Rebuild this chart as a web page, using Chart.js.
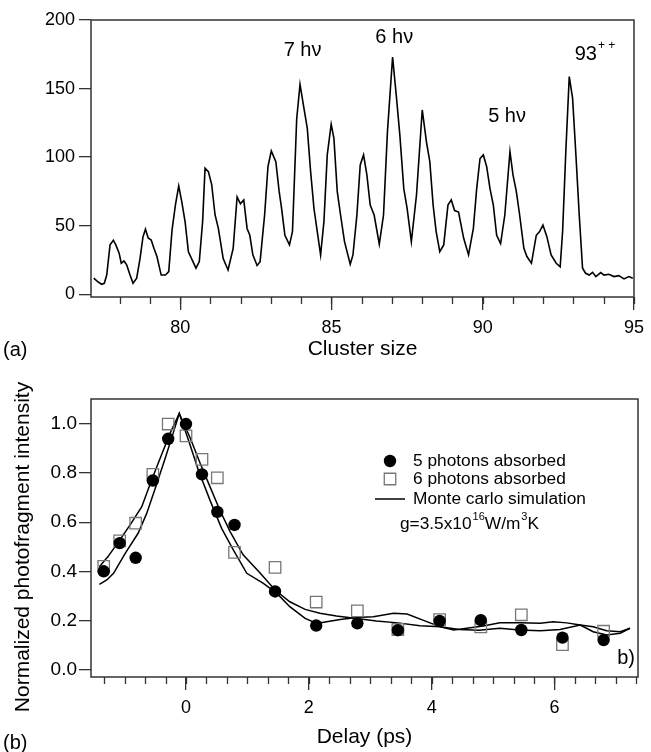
<!DOCTYPE html>
<html>
<head>
<meta charset="utf-8">
<script src="https://cdn.jsdelivr.net/npm/chart.js@4.4.1/dist/chart.umd.min.js"></script>
<style>
  body { margin: 0; background: #fff; }
  #wrap { position: relative; width: 651px; height: 752px; }
  canvas { position: absolute; left: 0; }
  #spectrum { top: 0; }
  #delay { top: 360px; }
</style>
</head>
<body>
<div id="wrap">
  <canvas id="spectrum" width="651" height="360"></canvas>
  <canvas id="delay" width="651" height="392"></canvas>
</div>
<script>
const FONT = "'Liberation Sans', Arial, sans-serif";
const INK = '#000';
const FRAME = '#333';

// ---- (a) mass spectrum ----
const clusterSize = [77.14, 77.27, 77.40, 77.49, 77.57, 77.68, 77.79, 77.87, 77.98, 78.05, 78.14, 78.23, 78.34, 78.44, 78.56,
  78.67, 78.77, 78.85, 78.94, 79.04, 79.13, 79.23, 79.37, 79.51, 79.62, 79.73, 79.84, 79.95, 80.05, 80.16, 80.27, 80.42,
  80.52, 80.63, 80.74, 80.82, 80.93, 81.04, 81.15, 81.26, 81.42, 81.58, 81.75, 81.88, 81.99, 82.10, 82.21, 82.30, 82.40,
  82.54, 82.64, 82.79, 82.90, 83.01, 83.16, 83.27, 83.35, 83.46, 83.61, 83.71, 83.85, 83.96, 84.09, 84.20, 84.31, 84.42,
  84.53, 84.64, 84.75, 84.86, 84.99, 85.08, 85.19, 85.30, 85.43, 85.62, 85.71, 85.84, 85.95, 86.06, 86.17, 86.28, 86.41,
  86.58, 86.72, 86.85, 87.02, 87.15, 87.26, 87.39, 87.50, 87.64, 87.81, 88.00, 88.14, 88.25, 88.36, 88.46, 88.58, 88.71,
  88.85, 88.96, 89.07, 89.20, 89.37, 89.53, 89.69, 89.80, 89.91, 90.02, 90.13, 90.24, 90.35, 90.46, 90.59, 90.73, 90.90,
  91.00, 91.11, 91.22, 91.36, 91.46, 91.61, 91.77, 91.88, 91.99, 92.12, 92.26, 92.43, 92.56, 92.64, 92.75, 92.86, 92.97,
  93.08, 93.19, 93.30, 93.40, 93.52, 93.63, 93.74, 93.90, 94.01, 94.17, 94.34, 94.50, 94.67, 94.83, 94.96];
const counts = [11.7, 9.2, 7.3, 8.0, 14, 36, 39.4, 36, 30, 22.6, 24.3, 21.4, 14, 8, 11.7,
  26, 42, 47.4, 41, 39.6, 33.5, 27.5, 14, 14, 16.5, 47, 65, 79, 67.6, 53, 31, 23.8,
  19, 23.8, 53, 92, 89.4, 80, 58, 48, 26, 17.7, 33.5, 71, 66, 68.8, 48, 43, 28.7,
  21, 23.8, 58, 93, 104.5, 96.7, 75, 62.7, 43, 36, 45.7, 128, 153, 135.6, 121, 89.4, 62.7,
  45.7, 28.7, 53, 101.6, 124, 113.7, 75, 57.8, 38.4, 21.9, 28.7, 57.8, 94.3, 101.6, 87, 65, 57.8,
  36.5, 57.8, 118.6, 173, 143, 116, 77, 62.7, 38.4, 72.4, 134.4, 111, 96.7, 65, 45.7, 31, 36,
  65, 68.8, 61, 60, 40.8, 28.7, 48, 77, 99, 101.6, 93, 77, 65, 43, 37, 57.8, 104,
  87, 75, 57.8, 33.5, 27.5, 22.6, 43, 45.7, 50.5, 42, 28.7, 22.6, 20, 45.7, 106, 158.7, 143,
  101.6, 57.8, 19, 15.3, 14, 16, 12.9, 15.8, 14, 14.6, 12.9, 13.6, 11.2, 12.9, 11.7];
const sizeTicks = [80, 85, 90, 95];
const countTicks = [0, 50, 100, 150, 200];
const peakLabels = [
  { parts: [{ t: '7 h\u03bd' }], x: 83.42, y: 177.6 },
  { parts: [{ t: '6 h\u03bd' }], x: 86.45, y: 187.3 },
  { parts: [{ t: '5 h\u03bd' }], x: 90.18, y: 129.5 },
  { parts: [{ t: '93' }, { t: '+ +', sup: true }], x: 93.04, y: 175.1 }
];

// ---- (b) delay scan ----
const delay = [-1.34, -1.08, -0.82, -0.54, -0.29, 0, 0.26, 0.51, 0.79, 1.45, 2.12, 2.79, 3.45, 4.13, 4.80, 5.46, 6.13, 6.80];
const fivePhoton = [0.40, 0.515, 0.455, 0.77, 0.94, 1.0, 0.795, 0.642, 0.589, 0.318, 0.179, 0.188, 0.16, 0.198, 0.201, 0.161, 0.13, 0.12];
const sixPhoton = [0.42, 0.524, 0.596, 0.795, 1.0, 0.952, 0.856, 0.781, 0.477, 0.416, 0.275, 0.239, 0.163, 0.203, 0.174, 0.223, 0.101, 0.156];
const simDelayA = [-1.41, -1.27, -1.08, -0.91, -0.72, -0.56, -0.40, -0.26, -0.11, 0.07, 0.23, 0.39, 0.55, 0.72, 0.93, 1.21,
  1.45, 1.69, 1.94, 2.18, 2.45, 2.78, 3.10, 3.45, 3.81, 4.14, 4.45, 4.77, 5.11, 5.43, 5.77, 6.09, 6.42, 6.63, 6.85, 7.07, 7.23];
const simA = [0.419, 0.46, 0.527, 0.589, 0.663, 0.772, 0.874, 0.962, 1.043, 0.942, 0.84, 0.745, 0.65, 0.561, 0.467, 0.392,
  0.324, 0.276, 0.245, 0.229, 0.218, 0.208, 0.198, 0.19, 0.178, 0.174, 0.163, 0.16, 0.168, 0.161, 0.158, 0.163, 0.181, 0.174, 0.158, 0.154, 0.168];
const simDelayB = [-1.41, -1.29, -1.18, -0.99, -0.78, -0.64, -0.51, -0.34, -0.21, -0.11, 0.04, 0.20, 0.39, 0.58, 0.77, 0.99,
  1.26, 1.48, 1.69, 1.94, 2.13, 2.29, 2.51, 2.78, 3.05, 3.38, 3.60, 3.92, 4.14, 4.36, 4.57, 4.84, 5.11, 5.43, 5.77, 5.98,
  6.20, 6.42, 6.63, 6.85, 7.07, 7.23];
const simB = [0.347, 0.365, 0.392, 0.473, 0.555, 0.636, 0.731, 0.86, 0.962, 1.043, 0.935, 0.813, 0.69, 0.575, 0.487, 0.392,
  0.351, 0.31, 0.256, 0.208, 0.188, 0.195, 0.204, 0.212, 0.215, 0.229, 0.226, 0.195, 0.174, 0.161, 0.168, 0.177, 0.19, 0.19,
  0.188, 0.195, 0.19, 0.181, 0.154, 0.141, 0.148, 0.168];
const delayTicks = [0, 2, 4, 6];
const intensityTicks = [0, 0.2, 0.4, 0.6, 0.8, 1.0];

function pts(xs, ys) {
  return xs.map((x, i) => ({ x: x, y: ys[i] }));
}

// write a run of text pieces, small raised ones for superscripts
function richText(ctx, parts, x, y, size) {
  let cx = x;
  ctx.textBaseline = 'middle';
  ctx.textAlign = 'left';
  parts.forEach(p => {
    const s = p.sup ? Math.round(size * 0.62) : size;
    ctx.font = s + 'px ' + FONT;
    const gap = p.sup ? 1 : 0;
    ctx.fillText(p.t, cx + gap, p.sup ? y - size * 0.42 : y);
    cx += ctx.measureText(p.t).width + gap;
  });
}

// box around the plot + short minor ticks (chart.js only has one tick length per axis)
const framePlugin = {
  id: 'frame',
  afterDraw(chart, args, opts) {
    const ctx = chart.ctx, a = chart.chartArea, xs = chart.scales.x;
    ctx.save();
    ctx.strokeStyle = FRAME;
    ctx.lineWidth = 1.5;
    ctx.strokeRect(a.left, a.top, a.right - a.left, a.bottom - a.top);
    ctx.lineWidth = 1.3;
    ctx.beginPath();
    for (let k = 0; opts.minorFrom + k * opts.minorStep <= xs.max + 1e-6; k++) {
      const px = Math.round(xs.getPixelForValue(opts.minorFrom + k * opts.minorStep)) + 0.5;
      ctx.moveTo(px, a.bottom);
      ctx.lineTo(px, a.bottom + opts.minorLen);
    }
    ctx.stroke();
    ctx.restore();
  }
};

function axisCommon(tickVals, len, pad, size, fmt) {
  return {
    type: 'linear',
    afterBuildTicks: s => { s.ticks = tickVals.map(v => ({ value: v })); },
    border: { display: false },
    grid: { drawOnChartArea: false, drawTicks: true, tickLength: len, color: FRAME, lineWidth: 1.3 },
    ticks: { autoSkip: false, maxRotation: 0, padding: pad, color: INK, font: { family: FONT, size: size }, callback: fmt }
  };
}

// ---------- chart (a) ----------
const annotA = {
  id: 'annotA',
  afterDraw(chart) {
    const ctx = chart.ctx, xs = chart.scales.x, ys = chart.scales.y;
    ctx.save();
    ctx.fillStyle = INK;
    peakLabels.forEach(l => richText(ctx, l.parts, xs.getPixelForValue(l.x), ys.getPixelForValue(l.y), 20));
    richText(ctx, [{ t: '(a)' }], 3, 350, 20);
    ctx.restore();
  }
};

const xA = axisCommon(sizeTicks, 13, 7, 18, v => String(v));
xA.min = 77.05; xA.max = 95;
xA.title = { display: true, text: 'Cluster size', color: INK, font: { family: FONT, size: 21, lineHeight: 1 }, padding: { top: 0, bottom: 0 } };
xA.afterFit = s => { s.height = 63; };
const yA = axisCommon(countTicks, 12, 4, 18, v => String(v));
yA.min = -2; yA.max = 200;
yA.afterFit = s => { s.width = 91; };

new Chart(document.getElementById('spectrum'), {
  type: 'scatter',
  data: {
    datasets: [{
      data: pts(clusterSize, counts),
      showLine: true,
      borderColor: '#000',
      borderWidth: 1.6,
      pointRadius: 0,
      tension: 0
    }]
  },
  options: {
    responsive: false,
    animation: false,
    devicePixelRatio: 1,
    layout: { padding: { left: 0, top: 20, right: 12, bottom: 0 } },
    plugins: { legend: { display: false }, tooltip: { enabled: false }, frame: { minorFrom: 78, minorStep: 1, minorLen: 7 } },
    scales: { x: xA, y: yA }
  },
  plugins: [framePlugin, annotA]
});

// ---------- chart (b) ----------
const legendB = {
  id: 'legendB',
  afterDraw(chart) {
    const ctx = chart.ctx, a = chart.chartArea;
    const lx = a.left + 299, tx = a.left + 322;
    ctx.save();
    ctx.fillStyle = '#000';
    Chart.helpers.drawPoint(ctx, { pointStyle: 'circle', radius: 6.2, borderWidth: 0, rotation: 0 }, lx, a.top + 62);
    ctx.fillStyle = 'rgba(0,0,0,0)';
    ctx.strokeStyle = '#777';
    ctx.lineWidth = 1.3;
    Chart.helpers.drawPoint(ctx, { pointStyle: 'rect', radius: 8.1, borderWidth: 1.3, rotation: 0 }, lx, a.top + 80);
    ctx.strokeStyle = '#000';
    ctx.lineWidth = 1.5;
    ctx.beginPath();
    ctx.moveTo(a.left + 284, a.top + 100);
    ctx.lineTo(a.left + 314, a.top + 100);
    ctx.stroke();
    ctx.fillStyle = INK;
    richText(ctx, [{ t: '5 photons absorbed' }], tx, a.top + 62, 17.3);
    richText(ctx, [{ t: '6 photons absorbed' }], tx, a.top + 80, 17.3);
    richText(ctx, [{ t: 'Monte carlo simulation' }], tx, a.top + 100, 17.3);
    richText(ctx, [{ t: 'g=3.5x10' }, { t: '16', sup: true }, { t: 'W/m' }, { t: '3', sup: true }, { t: 'K' }], a.left + 309, a.top + 125, 17.3);
    ctx.font = '20px ' + FONT;
    ctx.textAlign = 'right';
    ctx.fillText('b)', a.right - 3, a.bottom - 19);
    ctx.textAlign = 'left';
    ctx.fillText('(b)', 3, 383);
    // y title, sits a little below the plot centre in the original
    ctx.translate(23, 187);
    ctx.rotate(-Math.PI / 2);
    ctx.textAlign = 'center';
    ctx.font = '21px ' + FONT;
    ctx.fillText('Normalized photofragment intensity', 0, 0);
    ctx.restore();
  }
};

const xB = axisCommon(delayTicks, 13, 7, 18, v => String(v));
xB.min = -1.547; xB.max = 7.36;
xB.title = { display: true, text: 'Delay (ps)', color: INK, font: { family: FONT, size: 21, lineHeight: 1 }, padding: { top: 0, bottom: 4 } };
xB.afterFit = s => { s.height = 75; };
const yB = axisCommon(intensityTicks, 12, 2, 19, v => v.toFixed(1));
yB.min = -0.0305; yB.max = 1.102;
yB.afterFit = s => { s.width = 91; };

new Chart(document.getElementById('delay'), {
  type: 'scatter',
  data: {
    datasets: [
      { label: '5 photons absorbed', data: pts(delay, fivePhoton), pointStyle: 'circle', pointRadius: 6.2,
        backgroundColor: '#000', borderWidth: 0 },
      { label: '6 photons absorbed', data: pts(delay, sixPhoton), pointStyle: 'rect', pointRadius: 8.1,
        backgroundColor: 'rgba(0,0,0,0)', borderColor: '#777', borderWidth: 1.3 },
      { label: 'Monte carlo simulation', data: pts(simDelayA, simA), showLine: true, pointRadius: 0,
        borderColor: '#000', borderWidth: 1.5, tension: 0 },
      { label: 'Monte carlo simulation b', data: pts(simDelayB, simB), showLine: true, pointRadius: 0,
        borderColor: '#000', borderWidth: 1.5, tension: 0 }
    ]
  },
  options: {
    responsive: false,
    animation: false,
    devicePixelRatio: 1,
    layout: { padding: { left: 0, top: 39, right: 13, bottom: 0 } },
    plugins: { legend: { display: false }, tooltip: { enabled: false }, frame: { minorFrom: -4 / 3, minorStep: 1 / 3, minorLen: 7 } },
    scales: { x: xB, y: yB }
  },
  plugins: [framePlugin, legendB]
});
</script>
</body>
</html>
